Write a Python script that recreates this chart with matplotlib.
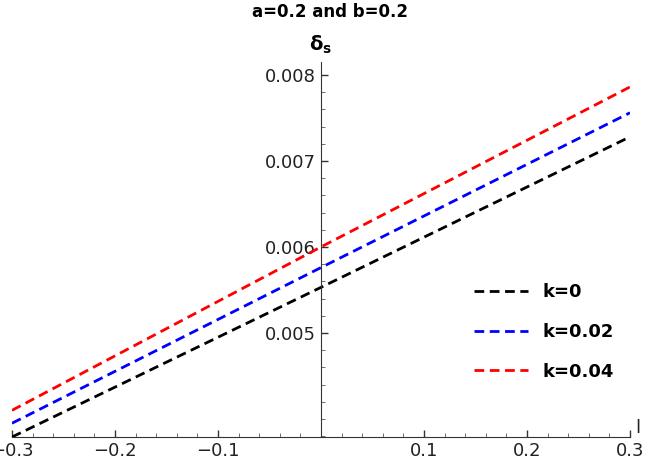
import matplotlib
matplotlib.use("Agg")
import matplotlib.pyplot as plt
from matplotlib.ticker import MultipleLocator

x_vals = [-0.3, 0.0, 0.3]
k0 = [0.00379, 0.00553, 0.00728]
k002 = [0.00395, 0.00576, 0.00756]
k004 = [0.00410, 0.00600, 0.00786]
labels = ["k=0", "k=0.02", "k=0.04"]
colors = ["black", "blue", "red"]

fig = plt.figure(figsize=(6.64, 4.73), dpi=100)
ax = fig.add_axes([12/664, 36/473, (630-12)/664, (437-62)/473])
for ys, lab, c in zip([k0, k002, k004], labels, colors):
    ax.plot(x_vals, ys, ls=(0, (3.5, 2)), color=c, lw=2, label=lab)
ax.set_xlim(-0.3, 0.3)
ax.set_ylim(0.00379, 0.00815)
ax.spines["left"].set_position(("data", 0))
ax.spines["right"].set_visible(False)
ax.spines["top"].set_visible(False)
for s in ["left", "bottom"]:
    ax.spines[s].set_color("#333333")
ax.set_xticks([-0.3, -0.2, -0.1, 0.1, 0.2, 0.3])
ax.set_xticklabels(["\u22120.3", "\u22120.2", "\u22120.1", "0.1", "0.2", "0.3"])
ax.set_yticks([0.005, 0.006, 0.007, 0.008])
ax.set_yticklabels(["0.005", "0.006", "0.007", "0.008"])
ax.xaxis.set_minor_locator(MultipleLocator(0.02))
ax.yaxis.set_minor_locator(MultipleLocator(0.0002))
ax.tick_params(labelsize=13, colors="#333333", labelcolor="#222222", length=5, width=1, direction="in")
ax.tick_params(which="minor", length=3, colors="#555555", direction="in")
ax.text(0.305, 0.00379, "l", fontsize=13, va="bottom", ha="left", color="#222222")
ax.text(0, 0.00822, r"$\mathbf{\delta_s}$", fontsize=14, ha="center", va="bottom")
fig.text(330/664, 1-12/473, "a=0.2 and b=0.2", fontsize=12, fontweight="bold", ha="center", va="center")
ax.legend(loc="center right", bbox_to_anchor=(1.0, 0.28), frameon=False,
          prop={"size": 13, "weight": "bold"}, handlelength=3, labelspacing=1.2)
fig.savefig("out.png", dpi=100)
